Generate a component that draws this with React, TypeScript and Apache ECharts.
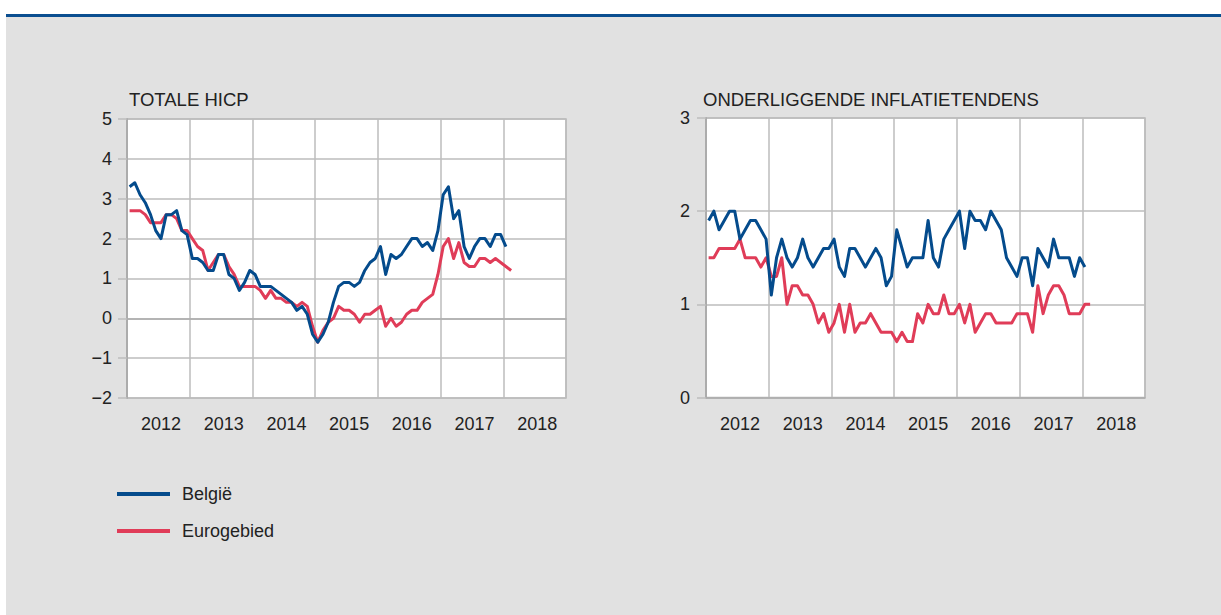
import React, { useEffect, useRef } from 'react';
import * as echarts from 'echarts';

// ---- Categories ----
const years = ['2012', '2013', '2014', '2015', '2016', '2017', '2018'];
const months: string[] = years.flatMap((y) =>
  ['01', '02', '03', '04', '05', '06', '07', '08', '09', '10', '11', '12'].map((m) => `${y}-${m}`)
);

// ---- Titles / legend names ----
const titleTotal = 'TOTALE HICP';
const titleCore = 'ONDERLIGGENDE INFLATIETENDENS';
const nameBE = 'België';
const nameEA = 'Eurogebied';

// ---- Series values (monthly, from Jan 2012) ----
const totalBE = [
  3.3, 3.4, 3.1, 2.9, 2.6, 2.2, 2.0, 2.6, 2.6, 2.7, 2.2, 2.1,
  1.5, 1.5, 1.4, 1.2, 1.2, 1.6, 1.6, 1.1, 1.0, 0.7, 0.9, 1.2,
  1.1, 0.8, 0.8, 0.8, 0.7, 0.6, 0.5, 0.4, 0.2, 0.3, 0.1, -0.4,
  -0.6, -0.4, -0.1, 0.4, 0.8, 0.9, 0.9, 0.8, 0.9, 1.2, 1.4, 1.5,
  1.8, 1.1, 1.6, 1.5, 1.6, 1.8, 2.0, 2.0, 1.8, 1.9, 1.7, 2.2,
  3.1, 3.3, 2.5, 2.7, 1.8, 1.5, 1.8, 2.0, 2.0, 1.8, 2.1, 2.1,
  1.8,
];
const totalEA = [
  2.7, 2.7, 2.7, 2.6, 2.4, 2.4, 2.4, 2.6, 2.6, 2.5, 2.2, 2.2,
  2.0, 1.8, 1.7, 1.2, 1.4, 1.6, 1.6, 1.3, 1.1, 0.8, 0.8, 0.8,
  0.8, 0.7, 0.5, 0.7, 0.5, 0.5, 0.4, 0.4, 0.3, 0.4, 0.3, -0.2,
  -0.6, -0.3, -0.1, 0.0, 0.3, 0.2, 0.2, 0.1, -0.1, 0.1, 0.1, 0.2,
  0.3, -0.2, 0.0, -0.2, -0.1, 0.1, 0.2, 0.2, 0.4, 0.5, 0.6, 1.1,
  1.8, 2.0, 1.5, 1.9, 1.4, 1.3, 1.3, 1.5, 1.5, 1.4, 1.5, 1.4,
  1.3, 1.2,
];
const coreBE = [
  1.9, 2.0, 1.8, 1.9, 2.0, 2.0, 1.7, 1.8, 1.9, 1.9, 1.8, 1.7,
  1.1, 1.5, 1.7, 1.5, 1.4, 1.5, 1.7, 1.5, 1.4, 1.5, 1.6, 1.6,
  1.7, 1.4, 1.3, 1.6, 1.6, 1.5, 1.4, 1.5, 1.6, 1.5, 1.2, 1.3,
  1.8, 1.6, 1.4, 1.5, 1.5, 1.5, 1.9, 1.5, 1.4, 1.7, 1.8, 1.9,
  2.0, 1.6, 2.0, 1.9, 1.9, 1.8, 2.0, 1.9, 1.8, 1.5, 1.4, 1.3,
  1.5, 1.5, 1.2, 1.6, 1.5, 1.4, 1.7, 1.5, 1.5, 1.5, 1.3, 1.5,
  1.4,
];
const coreEA = [
  1.5, 1.5, 1.6, 1.6, 1.6, 1.6, 1.7, 1.5, 1.5, 1.5, 1.4, 1.5,
  1.3, 1.3, 1.5, 1.0, 1.2, 1.2, 1.1, 1.1, 1.0, 0.8, 0.9, 0.7,
  0.8, 1.0, 0.7, 1.0, 0.7, 0.8, 0.8, 0.9, 0.8, 0.7, 0.7, 0.7,
  0.6, 0.7, 0.6, 0.6, 0.9, 0.8, 1.0, 0.9, 0.9, 1.1, 0.9, 0.9,
  1.0, 0.8, 1.0, 0.7, 0.8, 0.9, 0.9, 0.8, 0.8, 0.8, 0.8, 0.9,
  0.9, 0.9, 0.7, 1.2, 0.9, 1.1, 1.2, 1.2, 1.1, 0.9, 0.9, 0.9,
  1.0, 1.0,
];

const BLUE = '#044b8c';
const RED = '#e03c58';
const FONT = '"Liberation Sans", Arial, Helvetica, sans-serif';
const TEXT = '#222222';
const GRIDC = '#bcbcbc';
const FS = 18;

export default function App() {
  const ref = useRef<HTMLDivElement>(null);

  useEffect(() => {
    if (!ref.current) return;
    const chart = echarts.init(ref.current, undefined, { renderer: 'svg' });

    const labelStyle = { fontFamily: FONT, fontSize: FS, color: TEXT };

    const xAxisFor = (gi: number) => ({
      type: 'category',
      gridIndex: gi,
      data: months,
      boundaryGap: true,
      axisLine: { show: true, lineStyle: { color: '#acacac', width: 1.5 } },
      axisTick: { show: false },
      splitLine: {
        show: true,
        interval: (idx: number) => idx % 12 === 0,
        lineStyle: { color: GRIDC, width: 1.5 },
      },
      axisLabel: {
        interval: (idx: number) => idx % 12 === 6,
        formatter: (v: string) => v.slice(0, 4),
        margin: 17,
        ...labelStyle,
      },
    });

    const yAxisFor = (gi: number, min: number, max: number, margin: number) => ({
      type: 'value',
      gridIndex: gi,
      min,
      max,
      interval: 1,
      axisLine: { show: true, lineStyle: { color: '#acacac', width: 2 } },
      axisTick: { show: true, inside: false, length: 9, lineStyle: { color: GRIDC, width: 1.5 } },
      splitLine: { show: true, lineStyle: { color: GRIDC, width: 1.5 } },
      axisLabel: {
        margin,
        formatter: (v: number) => (v < 0 ? '\u2212' + Math.abs(v) : String(v)),
        ...labelStyle,
      },
    });

    const lineSeries = (name: string, data: number[], color: string, gi: number, z: number) => ({
      type: 'line',
      name,
      data,
      xAxisIndex: gi,
      yAxisIndex: gi,
      symbol: 'none',
      color,
      z,
      lineStyle: { color, width: 3, join: 'round' },
    });

    const titleStyle = { fontFamily: FONT, fontSize: 18.5, fontWeight: 'normal', color: TEXT };

    chart.setOption({
      animation: false,
      backgroundColor: 'transparent',
      title: [
        { text: titleTotal, left: 129, top: 90, padding: 0, textStyle: titleStyle },
        { text: titleCore, left: 703, top: 90, padding: 0, textStyle: titleStyle },
      ],
      legend: {
        orient: 'vertical',
        left: 117,
        top: 484,
        padding: 0,
        itemWidth: 53,
        itemHeight: 4,
        itemGap: 17,
        icon: 'rect',
        selectedMode: false,
        data: [nameBE, nameEA],
        textStyle: { fontFamily: FONT, fontSize: 18, color: TEXT, lineHeight: 20, padding: [0, 0, 0, 7] },
      },
      grid: [
        { left: 127, top: 119, width: 439, height: 279, show: true, backgroundColor: '#ffffff', borderColor: '#b8b8b8', borderWidth: 1.5 },
        { left: 706, top: 118, width: 439, height: 279.5, show: true, backgroundColor: '#ffffff', borderColor: '#b8b8b8', borderWidth: 1.5 },
      ],
      xAxis: [xAxisFor(0), xAxisFor(1)],
      yAxis: [yAxisFor(0, -2, 5, 15), yAxisFor(1, 0, 3, 16)],
      series: [
        lineSeries(nameEA, totalEA, RED, 0, 2),
        lineSeries(nameBE, totalBE, BLUE, 0, 3),
        lineSeries(nameEA, coreEA, RED, 1, 2),
        lineSeries(nameBE, coreBE, BLUE, 1, 3),
      ],
    });

    return () => chart.dispose();
  }, []);

  return (
    <div style={{ position: 'fixed', left: 0, top: 0, width: 1221, height: 615, background: '#ffffff', overflow: 'hidden' }}>
      <div style={{ position: 'absolute', left: 6, top: 14, width: 1215, height: 3, background: '#0b4f90' }} />
      <div style={{ position: 'absolute', left: 6, top: 17, width: 1215, height: 598, background: '#e1e1e1' }} />
      <div ref={ref} style={{ position: 'absolute', left: 0, top: 0, width: 1221, height: 615 }} />
    </div>
  );
}
